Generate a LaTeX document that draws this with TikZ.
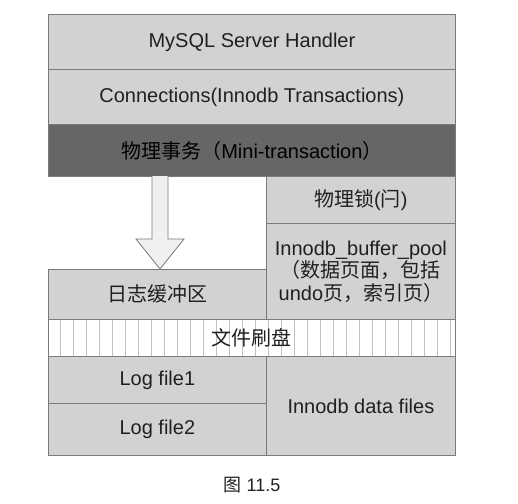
\documentclass[tikz,border=0pt]{standalone}
\usepackage{fontspec}
\setmainfont{Liberation Sans}
\newfontfamily\cjk{Noto Sans CJK SC}
\usetikzlibrary{positioning}
\definecolor{boxgray}{HTML}{D2D2D2}
\definecolor{bandgray}{HTML}{666666}
\definecolor{linegray}{HTML}{7A7A7A}
\definecolor{txt}{HTML}{202020}
\begin{document}
\begin{tikzpicture}[x=1pt, y=-1pt,
		box/.style={draw=linegray, fill=boxgray, line width=0.8pt, inner sep=0pt, anchor=north west, text=txt, font=\fontsize{20}{22.5}\selectfont},
		stripe/.style={linegray!45, line width=0.6pt}]
		\useasboundingbox (0,0) rectangle (518,503);
		
		%upper layers
		\node[box, minimum width=407pt, minimum height=55pt] (handler) at (48,14) {MySQL Server Handler};
		\node[box, minimum width=407pt, minimum height=55pt] (conn) at (48,69) {Connections(Innodb Transactions)};
		\node[box, minimum width=407pt, minimum height=52pt, fill=bandgray, text=black] (mtr) at (48,124) {{\cjk 物理事务（}Mini-transaction{\cjk ）}};
		
		%right column
		\node[box, minimum width=189pt, minimum height=47pt] (latch) at (266,176) {{\cjk 物理锁}({\cjk 闩})};
		\node[box, minimum width=189pt, minimum height=96pt, align=center] (pool) at (266,223) {Innodb\_buffer\_pool\\{\cjk （数据页面，包括}\\undo{\cjk 页，索引页）}};
		
		%log buffer
		\node[box, minimum width=218pt, minimum height=50pt] (logbuf) at (48,269) {\cjk 日志缓冲区};
		
		%flush
		\foreach \x in {60, 73, ..., 450}{
			\draw[stripe] (\x, 319)--(\x, 356);
		}
		\node[box, fill=none, minimum width=407pt, minimum height=37pt] (flush) at (48,319) {\cjk 文件刷盘};
		
		%files
		\node[box, minimum width=218pt, minimum height=47pt] (log1) at (48,356) {Log file1};
		\node[box, minimum width=218pt, minimum height=52pt] (log2) at (48,403) {Log file2};
		\node[box, minimum width=189pt, minimum height=99pt] (data) at (266,356) {Innodb data files};
		
		%arrow
		\coordinate (atop) at (160,176);
		\draw[linegray, fill=black!6, line width=0.8pt] (atop) ++(-8,0) -- ++(0,63) -- ++(-16,0)
			-- (logbuf.north -| atop) -- ++(24,-30) -- ++(-16,0) -- ++(0,-63);
		
		\node[text=txt, font=\fontsize{18}{20}\selectfont] (cap) at (252,485) {{\cjk 图} 11.5};
\end{tikzpicture}
\end{document}
